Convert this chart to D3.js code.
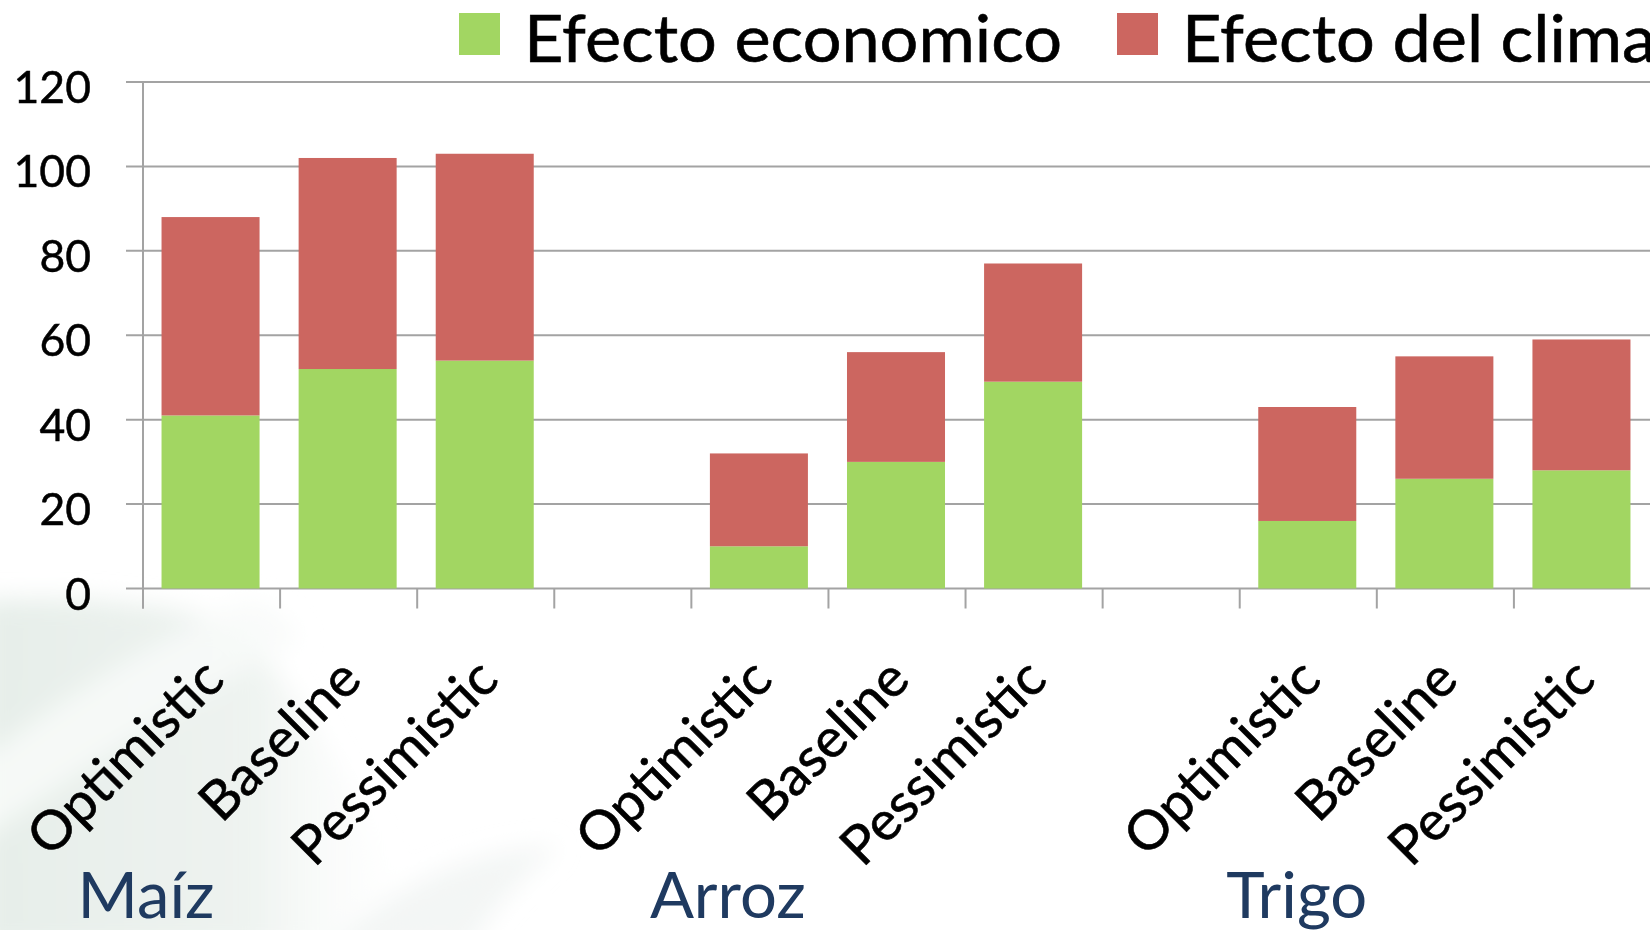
<!DOCTYPE html>
<html>
<head>
<meta charset="utf-8">
<script src="https://cdn.jsdelivr.net/npm/d3@7"></script>
<style>
  body { margin: 0; background: #ffffff; }
  svg { display: block; font-family: Lato, "Open Sans", sans-serif; }
</style>
</head>
<body>
<div id="container"></div>
<script>
// chart values
var groups = ["Maíz", "Arroz", "Trigo"];
var scenarios = ["Optimistic", "Baseline", "Pessimistic"];
var efectoEconomico = [41, 52, 54, 10, 30, 49, 16, 26, 28];
var efectoClima = [47, 50, 49, 22, 26, 28, 27, 29, 31];
var seriesNames = ["Efecto economico", "Efecto del clima"];
var seriesColors = ["#a2d662", "#cc6660"];
var yTicks = [0, 20, 40, 60, 80, 100, 120];

(function () {
    var width = 1650;
    var height = 930;
    var plot = { left: 142, right: 1650, top: 82, bottom: 588.5 };
    var groupLabelShift = [-84, -60, -32];   // slide text boxes sit a bit off the groups

    // one slot per bar, plus an empty slot between crops
    var slots = [];
    groups.forEach(function (g, i) {
        scenarios.forEach(function (s, j) {
            var k = i * scenarios.length + j;
            slots.push({ key: g + "|" + s, group: g, scenario: s, econ: efectoEconomico[k], clima: efectoClima[k] });
        });
        if (i < groups.length - 1) slots.push({ key: "gap" + i, blank: true });
    });
    var bars = slots.filter(function (d) { return !d.blank; });

    var svg = d3.select("#container")
        .append("svg")
        .attr("width", width)
        .attr("height", height);

    // faint swirl of the slide background (bottom left)
    var defs = svg.append("defs");
    var grad = defs.append("linearGradient").attr("id", "swirl")
        .attr("x1", "0").attr("y1", "0").attr("x2", "1").attr("y2", "0");
    grad.append("stop").attr("offset", "0").attr("stop-color", "#e6eee9");
    grad.append("stop").attr("offset", "0.6").attr("stop-color", "#eef3f0");
    grad.append("stop").attr("offset", "1").attr("stop-color", "#ffffff").attr("stop-opacity", 0);
    var blur = defs.append("filter").attr("id", "soft").attr("x", "-20%").attr("y", "-20%").attr("width", "140%").attr("height", "140%");
    blur.append("feGaussianBlur").attr("stdDeviation", 12);

    var bg = svg.append("g").attr("filter", "url(#soft)");
    bg.append("path")
        .attr("d", "M-20,600 C80,596 170,600 230,625 C300,680 360,800 430,950 L-20,950 Z")
        .attr("fill", "url(#swirl)");
    // lighter streak across the swirl
    bg.append("path")
        .attr("d", "M-20,760 C60,700 150,640 250,600 C280,610 290,625 300,640 C200,690 100,760 -20,840 Z")
        .attr("fill", "#f8faf9").attr("opacity", 0.85);
    bg.append("path")
        .attr("d", "M330,950 C400,880 470,850 560,845 C520,880 490,910 470,950 Z")
        .attr("fill", "#f0f4f2").attr("opacity", 0.8);

    var x = d3.scaleBand()
        .domain(slots.map(function (d) { return d.key; }))
        .range([plot.left, plot.right])
        .paddingInner(0.285)
        .paddingOuter(0.1425);

    var y = d3.scaleLinear()
        .domain([0, 120])
        .range([plot.bottom, plot.top]);

    var gridColor = "#a3a3a3";

    // gridlines with the little left ticks
    svg.append("g")
        .selectAll("line")
        .data(yTicks)
        .enter()
        .append("line")
        .attr("x1", plot.left - 16)
        .attr("x2", plot.right)
        .attr("y1", function (d) { return y(d); })
        .attr("y2", function (d) { return y(d); })
        .attr("stroke", gridColor)
        .attr("stroke-width", 2);

    // y axis line
    svg.append("line")
        .attr("x1", plot.left + 1).attr("x2", plot.left + 1)
        .attr("y1", y(120)).attr("y2", plot.bottom + 20)
        .attr("stroke", gridColor).attr("stroke-width", 2);

    // x ticks on slot boundaries
    svg.append("g")
        .selectAll("line")
        .data(d3.range(slots.length + 1))
        .enter()
        .append("line")
        .attr("x1", function (k) { return plot.left + 1 + k * x.step(); })
        .attr("x2", function (k) { return plot.left + 1 + k * x.step(); })
        .attr("y1", plot.bottom)
        .attr("y2", plot.bottom + 20)
        .attr("stroke", gridColor).attr("stroke-width", 2);

    // stacked bars
    var stacked = d3.stack().keys(["econ", "clima"])(bars);
    svg.append("g")
        .selectAll("g")
        .data(stacked)
        .enter()
        .append("g")
        .attr("fill", function (d, i) { return seriesColors[i]; })
        .selectAll("rect")
        .data(function (d) { return d; })
        .enter()
        .append("rect")
        .attr("x", function (d) { return x(d.data.key); })
        .attr("width", x.bandwidth())
        .attr("y", function (d) { return y(d[1]); })
        .attr("height", function (d) { return y(d[0]) - y(d[1]); });

    // helpers: Lato is a bit wider than the slide font, so size by height
    // and squeeze the glyphs to the slide's width
    function naturalWidth(sample, size) {
        var t = svg.append("text").attr("font-size", size).text(sample);
        var w = t.node().getComputedTextLength();
        t.remove();
        return w;
    }
    function squeeze(sel, size, ratio) {
        sel.each(function () {
            var w = naturalWidth(this.textContent, size);
            d3.select(this)
                .attr("textLength", w * ratio)
                .attr("lengthAdjust", "spacingAndGlyphs");
        });
    }

    // y tick labels
    svg.append("g")
        .selectAll("text")
        .data(yTicks)
        .enter()
        .append("text")
        .attr("x", 91)
        .attr("y", function (d) { return y(d) + 21; })
        .attr("text-anchor", "end")
        .attr("font-size", 44.5)
        .attr("fill", "#000")
        .attr("stroke", "#000").attr("stroke-width", 0.5)
        .text(function (d) { return d; });

    // rotated scenario labels
    var xSize = 54;
    var xRatio = 250 / naturalWidth("Optimistic", xSize);
    var xLabels = svg.append("g")
        .selectAll("text")
        .data(bars)
        .enter()
        .append("text")
        .attr("text-anchor", "end")
        .attr("font-size", xSize)
        .attr("fill", "#000")
        .attr("stroke", "#000").attr("stroke-width", 0.6)
        .attr("transform", function (d) {
            return "translate(" + (x(d.key) + x.bandwidth() / 2 + 16) + ",682) rotate(-45)";
        })
        .text(function (d) { return d.scenario; });
    squeeze(xLabels, xSize, xRatio);

    // crop names under each group
    var gSize = 63;
    var gRatio = 137 / naturalWidth("Maíz", gSize);
    var gLabels = svg.append("g")
        .selectAll("text")
        .data(groups)
        .enter()
        .append("text")
        .attr("x", function (g, i) { return x(g + "|" + scenarios[0]) + groupLabelShift[i]; })
        .attr("y", 918)
        .attr("font-size", gSize)
        .attr("fill", "#1f3a60")
        .text(function (g) { return g; });
    squeeze(gLabels, gSize, gRatio);

    // legend at the top
    var legSize = 66;
    var legRatio = 538 / naturalWidth(seriesNames[0], legSize);
    var legend = svg.append("g");
    var lx = 459;
    seriesNames.forEach(function (name, i) {
        legend.append("rect")
            .attr("x", lx).attr("y", 13)
            .attr("width", 41).attr("height", 42)
            .attr("fill", seriesColors[i]);
        var t = legend.append("text")
            .attr("x", lx + 41 + 24)
            .attr("y", 62)
            .attr("font-size", legSize)
            .attr("fill", "#000")
            .attr("stroke", "#000").attr("stroke-width", 0.6)
            .text(name);
        squeeze(t, legSize, legRatio);
        lx += 41 + 24 + naturalWidth(name, legSize) * legRatio + 55;
    });
})();
</script>
</body>
</html>
